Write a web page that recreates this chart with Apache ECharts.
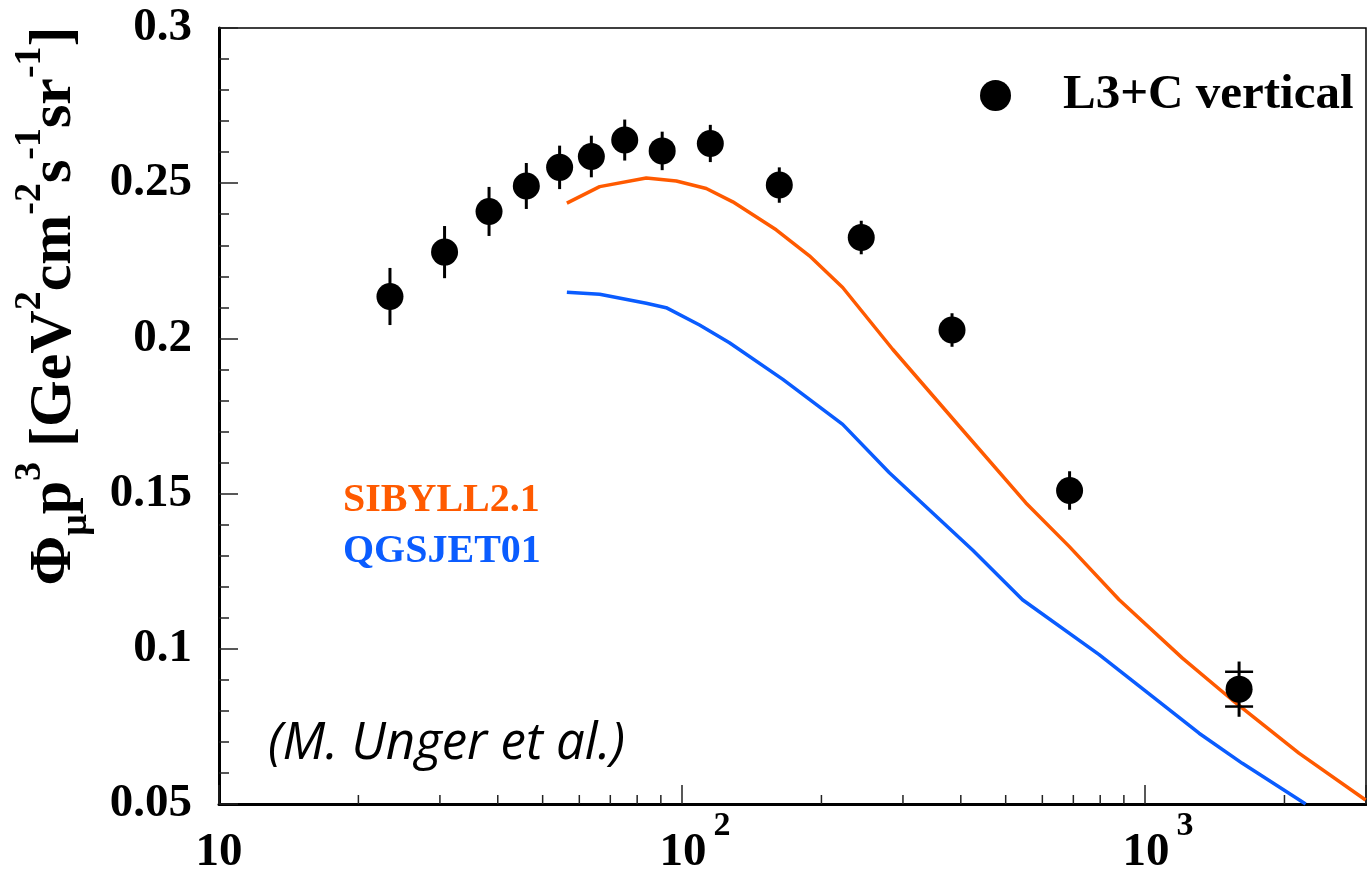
<!DOCTYPE html>
<html>
<head>
<meta charset="utf-8">
<script src="https://cdn.jsdelivr.net/npm/echarts@6/dist/echarts.min.js"></script>
<style>
html,body{margin:0;padding:0;background:#fff;}
#chart{width:1367px;height:878px;}
</style>
</head>
<body>
<div id="chart"></div>
<script>
// ---- data ----
const energy   = [23.4, 30.7, 38.3, 46.1, 54.4, 63.7, 75.2, 90.6, 115.1, 162.2, 243.8, 382.9, 687, 1596];
const flux     = [0.2135, 0.2278, 0.2409, 0.2491, 0.2551, 0.2586, 0.2639, 0.2604, 0.2628, 0.2494, 0.2325, 0.2027, 0.1510, 0.0870];
const fluxErr  = [0.0092, 0.0084, 0.0079, 0.0074, 0.0070, 0.0067, 0.0066, 0.0062, 0.0060, 0.0057, 0.0054, 0.0054, 0.0062, 0.0089];
const fluxCap  = [null, null, null, null, null, null, null, null, null, null, null, null, null, 0.0056];

const sibyllE  = [56.4, 66.4, 83.7, 97.2, 112.8, 128.7, 159.7, 188.4, 222.3, 285, 397, 552.9, 685.5, 879, 1204, 1543, 2149, 2994];
const sibyllY  = [0.2436, 0.2489, 0.2517, 0.2507, 0.2483, 0.2440, 0.2350, 0.2266, 0.2164, 0.1965, 0.1717, 0.1470, 0.1330, 0.1158, 0.0970, 0.0835, 0.0664, 0.0513];

const qgsjetE  = [56.4, 66.4, 83.7, 92.4, 109.1, 126.6, 165.1, 222.3, 280.4, 424, 543.6, 795.8, 1308, 1622, 2222];
const qgsjetY  = [0.2149, 0.2142, 0.2113, 0.2099, 0.2043, 0.1986, 0.1868, 0.1723, 0.1567, 0.1318, 0.1158, 0.0981, 0.0728, 0.0631, 0.0500];

const xMinorTicks = [20, 30, 40, 50, 60, 70, 80, 90, 200, 300, 400, 500, 600, 700, 800, 900, 2000];
const X_MIN = 10, X_MAX = 3000;
const Y_MIN = 0.05, Y_MAX = 0.3, Y_STEP = 0.05;

const SERIF = "'Liberation Serif','Times New Roman',serif";
const ORANGE = '#ff5a00';
const BLUE = '#0a5cff';

const chart = echarts.init(document.getElementById('chart'), null, {renderer: 'canvas'});

const option = {
  animation: false,
  backgroundColor: '#fff',
  grid: {left: 219, right: 1, top: 28, bottom: 74, containLabel: false, outerBoundsMode: 'none',
         show: true, borderColor: '#000', borderWidth: 1.5, backgroundColor: 'transparent'},
  title: {
    text: '(M. Unger et al.)', left: 268, top: 719, padding: 0,
    textStyle: {fontFamily: "'Open Sans',sans-serif", fontStyle: 'italic', fontWeight: 'normal', fontSize: 51, color: '#000'}
  },
  legend: [
    {
      data: ['L3+C vertical'], left: 980, top: 71, padding: 0, icon: 'circle',
      itemWidth: 31, itemHeight: 31, selectedMode: false,
      textStyle: {fontFamily: SERIF, fontWeight: 'bold', fontSize: 49, color: '#000', padding: [0, 0, 0, 47]}
    },
    {
      data: [
        {name: 'SIBYLL2.1', textStyle: {color: ORANGE}},
        {name: 'QGSJET01', textStyle: {color: BLUE}}
      ],
      left: 338, top: 481, padding: 0, orient: 'vertical', itemGap: 11, icon: 'rect',
      itemWidth: 0, itemHeight: 0, selectedMode: false,
      textStyle: {fontFamily: SERIF, fontWeight: 'bold', fontSize: 40}
    }
  ],
  xAxis: {
    type: 'log', logBase: 10, min: X_MIN, max: X_MAX,
    axisLine: {show: true, lineStyle: {color: '#000', width: 3}},
    axisTick: {show: true, inside: true, length: 19, lineStyle: {color: '#222', width: 1.5}},
    splitLine: {show: false},
    minorTick: {show: false},
    axisLabel: {
      show: true, margin: 5, showMinLabel: true, showMaxLabel: true,
      formatter: function (v) {
        const l = Math.log10(v);
        const e = Math.round(l);
        if (Math.abs(l - e) > 1e-6) return '';
        if (e === 1) return '{b|10}';
        return '{bp|10}{sup|' + e + '}';
      },
      rich: {
        b:   {fontFamily: SERIF, fontWeight: 'bold', fontSize: 47, lineHeight: 88, color: '#000'},
        bp:  {fontFamily: SERIF, fontWeight: 'bold', fontSize: 47, lineHeight: 88, color: '#000', padding: [0, 0, 0, 26]},
        sup: {fontFamily: SERIF, fontWeight: 'bold', fontSize: 34, lineHeight: 88, color: '#000', padding: [0, 0, 54, 7]}
      }
    }
  },
  yAxis: {
    type: 'value', min: Y_MIN, max: Y_MAX, interval: Y_STEP,
    axisLine: {show: true, lineStyle: {color: '#000', width: 3}},
    axisTick: {show: true, inside: true, length: 19, lineStyle: {color: '#222', width: 1.5}},
    minorTick: {show: true, splitNumber: 5, length: 10, lineStyle: {color: '#222', width: 1.5}},
    splitLine: {show: false},
    axisLabel: {margin: 27, fontFamily: SERIF, fontWeight: 'bold', fontSize: 47, color: '#000'},
    name: '{b|Φ}{sub|μ}{b|p}{sup|3}{b| [GeV}{sup|2}{b|cm}{sup|-2}{b|s}{sup|-1}{b|sr}{sup|-1}{b|]}',
    nameLocation: 'middle', nameRotate: 90, nameGap: 108,
    nameTextStyle: {
      padding: [0, 0, 0, 220],
      rich: {
        b:   {fontFamily: SERIF, fontWeight: 'bold', fontSize: 60, lineHeight: 104, color: '#000'},
        sup: {fontFamily: SERIF, fontWeight: 'bold', fontSize: 38, lineHeight: 104, color: '#000', padding: [0, 0, 50, 0]},
        sub: {fontFamily: SERIF, fontWeight: 'bold', fontSize: 38, lineHeight: 104, color: '#000', padding: [42, 0, 0, 0]}
      }
    }
  },
  series: [
    {
      name: 'SIBYLL2.1', type: 'line', showSymbol: false, symbol: 'none', z: 2,
      data: sibyllE.map((e, i) => [e, sibyllY[i]]),
      lineStyle: {color: ORANGE, width: 3.5}, itemStyle: {color: ORANGE}
    },
    {
      name: 'QGSJET01', type: 'line', showSymbol: false, symbol: 'none', z: 2, clip: true,
      data: qgsjetE.map((e, i) => [e, qgsjetY[i]]),
      lineStyle: {color: BLUE, width: 3.5}, itemStyle: {color: BLUE}
    },
    {
      name: 'L3+C vertical', type: 'custom', z: 3, silent: true,
      data: energy.map((e, i) => [e, flux[i] - fluxErr[i], flux[i] + fluxErr[i],
        fluxCap[i] == null ? NaN : flux[i] - fluxCap[i], fluxCap[i] == null ? NaN : flux[i] + fluxCap[i]]),
      renderItem: function (params, api) {
        const x = api.value(0);
        const lo = api.coord([x, api.value(1)]);
        const hi = api.coord([x, api.value(2)]);
        const children = [{type: 'line', shape: {x1: lo[0], y1: lo[1], x2: hi[0], y2: hi[1]}, style: {stroke: '#000', lineWidth: 3}}];
        const c1 = api.value(3), c2 = api.value(4);
        if (!isNaN(c1) && !isNaN(c2)) {
          [c1, c2].forEach(function (c) {
            const p = api.coord([x, c]);
            children.push({type: 'line', shape: {x1: p[0] - 14, y1: p[1], x2: p[0] + 14, y2: p[1]}, style: {stroke: '#000', lineWidth: 2.5}});
          });
        }
        return {type: 'group', children: children};
      },
      itemStyle: {color: '#000'}
    },
    {
      name: 'L3+C vertical', type: 'scatter', z: 5, symbol: 'circle', symbolSize: 27,
      data: energy.map((e, i) => [e, flux[i]]),
      itemStyle: {color: '#000', opacity: 1}
    },
    {
      name: 'xMinorTicks', type: 'custom', z: 4, silent: true,
      data: xMinorTicks.map(v => [v, Y_MIN]),
      renderItem: function (params, api) {
        const p = api.coord([api.value(0), Y_MIN]);
        return {type: 'line', shape: {x1: p[0], y1: p[1], x2: p[0], y2: p[1] - 9}, style: {stroke: '#222', lineWidth: 1.5}};
      }
    }
  ]
};
chart.setOption(option);
</script>
</body>
</html>
